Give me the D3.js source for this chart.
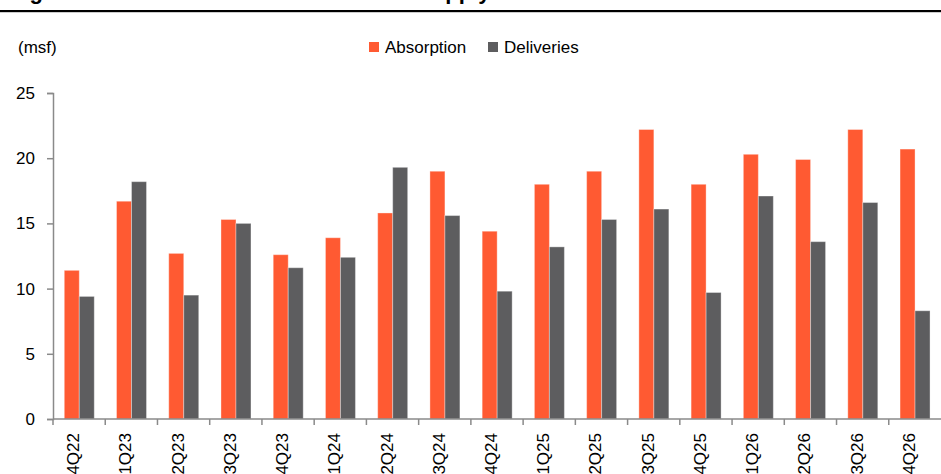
<!DOCTYPE html>
<html>
<head>
<meta charset="utf-8">
<script src="https://cdn.jsdelivr.net/npm/d3@7"></script>
<style>
  body { margin: 0; background: #fff; }
  svg { display: block; font-family: "Liberation Sans", Arial, sans-serif; }
</style>
</head>
<body>
<div id="chart"></div>
<script>
// data
const quarters = ["4Q22", "1Q23", "2Q23", "3Q23", "4Q23", "1Q24", "2Q24", "3Q24", "4Q24",
                  "1Q25", "2Q25", "3Q25", "4Q25", "1Q26", "2Q26", "3Q26", "4Q26"];
const absorption = [11.4, 16.7, 12.7, 15.3, 12.6, 13.9, 15.8, 19.0, 14.4,
                    18.0, 19.0, 22.2, 18.0, 20.3, 19.9, 22.2, 20.7];
const deliveries = [9.4, 18.2, 9.5, 15.0, 11.6, 12.4, 19.3, 15.6, 9.8,
                    13.2, 15.3, 16.1, 9.7, 17.1, 13.6, 16.6, 8.3];
const seriesNames = ["Absorption", "Deliveries"];
const yTicks = [0, 5, 10, 15, 20, 25];

const colors = { Absorption: "#ff5a32", Deliveries: "#5d5d5f" };
const axisColor = "#8a8a8a";

let width = 941, height = 474;
let margin = { top: 93, right: 0, bottom: 55, left: 53 };

let svg = d3.select("#chart").append("svg")
    .attr("width", width)
    .attr("height", height);

// title (cut off at top of the page) and rule
svg.append("text")
    .attr("x", 10)
    .attr("y", -1.5)
    .attr("font-size", 22)
    .attr("font-weight", "bold")
    .attr("fill", "#000")
    .text("Figure 9: Demand continues to exceed supply");

svg.append("rect")
    .attr("x", 0).attr("y", 10)
    .attr("width", width).attr("height", 2.2)
    .attr("fill", "#000");

// scales
let x0 = d3.scaleBand()
    .domain(quarters)
    .range([margin.left, width - margin.right]);

let x1 = d3.scaleBand()
    .domain(seriesNames)
    .range([x0.bandwidth() * 0.216, x0.bandwidth() * 0.79]);

let y = d3.scaleLinear()
    .domain([0, 25])
    .range([height - margin.bottom, margin.top]);

const rows = quarters.map((q, i) => ({
    quarter: q,
    values: [
        { key: "Absorption", value: absorption[i] },
        { key: "Deliveries", value: deliveries[i] }
    ]
}));

// bars
let groups = svg.selectAll(".bar-group")
    .data(rows)
    .enter().append("g")
    .attr("class", "bar-group")
    .attr("transform", d => "translate(" + x0(d.quarter) + ",0)");

groups.selectAll("rect")
    .data(d => d.values)
    .enter().append("rect")
    .attr("x", d => x1(d.key))
    .attr("y", d => y(d.value))
    .attr("width", x1.bandwidth())
    .attr("height", d => y(0) - y(d.value))
    .attr("fill", d => colors[d.key])
    .attr("stroke", "#fff")
    .attr("stroke-opacity", 0.35)
    .attr("stroke-width", 1);

// y axis
let yAxis = svg.append("g")
    .attr("transform", "translate(" + margin.left + ",0)")
    .call(d3.axisLeft(y).tickValues(yTicks).tickSize(6).tickPadding(12).tickFormat(d3.format("d")));

yAxis.select(".domain").attr("stroke", axisColor).attr("stroke-width", 1.5);
yAxis.selectAll(".tick line").attr("stroke", axisColor).attr("stroke-width", 1.5);
yAxis.selectAll(".tick text")
    .attr("font-size", 17)
    .attr("fill", "#000")
    .attr("font-family", "Liberation Sans, Arial, sans-serif");

// x axis
let xAxis = svg.append("g")
    .attr("transform", "translate(0," + y(0) + ")");

xAxis.append("line")
    .attr("x1", margin.left).attr("x2", width)
    .attr("stroke", axisColor).attr("stroke-width", 1.5);

xAxis.selectAll(".x-tick")
    .data(quarters)
    .enter().append("line")
    .attr("class", "x-tick")
    .attr("x1", d => x0(d)).attr("x2", d => x0(d))
    .attr("y1", 0).attr("y2", 6)
    .attr("stroke", axisColor).attr("stroke-width", 1.5);

xAxis.selectAll(".x-label")
    .data(quarters)
    .enter().append("text")
    .attr("class", "x-label")
    .attr("text-anchor", "end")
    .attr("font-size", 17)
    .attr("fill", "#000")
    .attr("transform", d => "translate(" + (x0(d) + x0.bandwidth() / 2) + ",14) rotate(-90)")
    .text(d => d);

// unit label
svg.append("text")
    .attr("x", 18)
    .attr("y", 53)
    .attr("font-size", 17)
    .attr("fill", "#000")
    .text("(msf)");

// legend
let legend = svg.selectAll(".legend")
    .data(seriesNames)
    .enter().append("g")
    .attr("class", "legend")
    .attr("transform", (d, i) => "translate(" + [369, 488][i] + ",42)");

legend.append("rect")
    .attr("width", 10).attr("height", 10)
    .attr("fill", d => colors[d]);

legend.append("text")
    .attr("x", 16)
    .attr("y", 11)
    .attr("font-size", 17)
    .attr("fill", "#000")
    .text(d => d);
</script>
</body>
</html>
